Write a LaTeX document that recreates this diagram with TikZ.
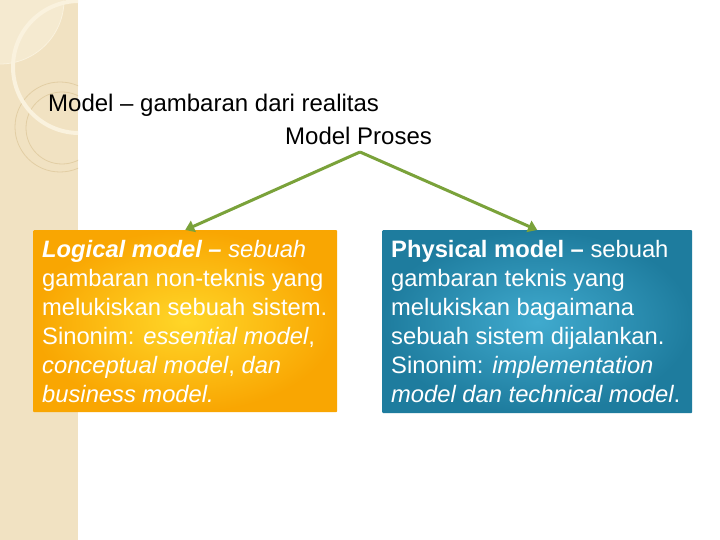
\documentclass[tikz,border=0pt]{standalone}
\usepackage{fontspec}
\setmainfont{Liberation Sans}
\usetikzlibrary{arrows.meta}
\definecolor{strip}{RGB}{241,226,194}
\definecolor{striplight}{RGB}{245,234,208}
\definecolor{stripdark}{RGB}{226,206,164}
\definecolor{cream}{RGB}{250,242,222}
\definecolor{arrgreen}{RGB}{122,162,58}
\definecolor{orin}{RGB}{255,214,40}
\definecolor{orout}{RGB}{249,166,2}
\definecolor{blin}{RGB}{64,170,206}
\definecolor{blout}{RGB}{30,124,158}
\tikzset{
  boxbase/.style={rectangle, inner sep=0pt, anchor=north west, rounded corners=1pt},
  orangebox/.style={boxbase, inner color=orin, outer color=orout},
  bluebox/.style={boxbase, inner color=blin, outer color=blout},
  boxtext/.style={inner sep=0pt, anchor=north west, align=left, text=white,
    font={\fontsize{23.75pt}{29pt}\selectfont}},
  titletext/.style={inner sep=0pt, anchor=base west, text=black,
    font={\fontsize{24pt}{29pt}\selectfont}},
  arr/.style={draw=arrgreen, line width=3pt, -{Triangle[length=9pt,width=12pt]}, fill=arrgreen},
}
\begin{document}
\begin{tikzpicture}[x=1pt,y=-1pt]
\useasboundingbox (0,0) rectangle (720,540);
\fill[white] (0,0) rectangle (720,540);
% decorative strip
\fill[strip] (0,0) rectangle (78,540);
\begin{scope}
  \clip (0,0) rectangle (78,540);
  \fill[striplight] (0,0) circle[radius=64pt];
  \draw[cream, line width=0.8pt] (0,0) circle[radius=64pt];
  \draw[stripdark, line width=0.8pt] (60,127) circle[radius=45pt];
  \draw[stripdark, line width=0.8pt] (62,128) circle[radius=36pt];
  \draw[cream, line width=4pt] (79,67) circle[radius=66pt];
\end{scope}
% titles
\node[titletext] (title) at (48,112) {Model – gambaran dari realitas};
\node[titletext] (proses) at (285,144.5) {Model Proses};
% boxes
\node[orangebox, minimum width=304pt, minimum height=182pt] (leftbox) at (33,230) {};
\node[bluebox, minimum width=310pt, minimum height=183pt] (rightbox) at (382,230) {};
\node[boxtext] (lefttext) at (42,236.7) {\strut\textbf{\textit{Logical model –}} \textit{sebuah}\\
gambaran non-teknis yang\\
melukiskan sebuah sistem.\\
Sinonim: \textit{essential model},\\
\textit{conceptual model}, \textit{dan}\\
\textit{business model.}};
\node[boxtext] (righttext) at (391,236.7) {\strut\textbf{Physical model –} sebuah\\
gambaran teknis yang\\
melukiskan bagaimana\\
sebuah sistem dijalankan.\\
Sinonim: \textit{implementation}\\
\textit{model dan technical model}.};
% connectors
\coordinate (split) at (360,152);
\draw[arr] (split) -- (leftbox.north);
\draw[arr] (split) -- (rightbox.north);
\end{tikzpicture}
\end{document}
